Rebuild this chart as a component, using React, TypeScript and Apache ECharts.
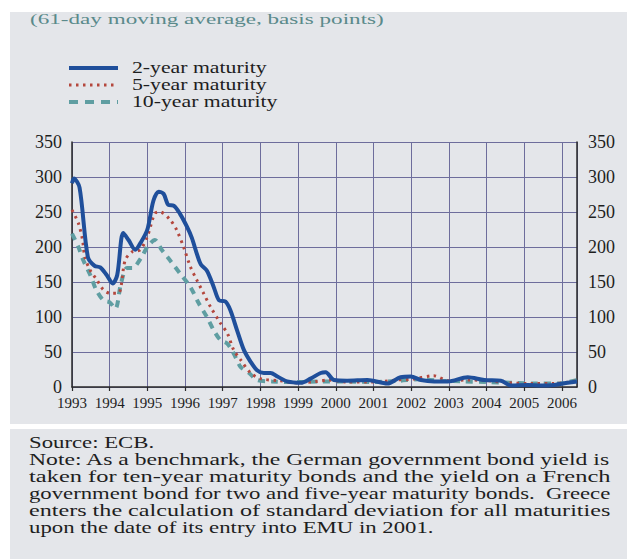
import React, { useEffect, useRef } from "react";
import * as echarts from "echarts";

const TITLE = "(61-day moving average, basis points)";
const SERIES_NAMES = ["2-year maturity", "5-year maturity", "10-year maturity"];
const NOTE_LINES = [
  "Source: ECB.",
  "Note: As a benchmark, the German government bond yield is",
  "taken for ten-year maturity bonds and the yield on a French",
  "government bond for two and five-year maturity bonds.  Greece",
  "enters the calculation of standard deviation for all maturities",
  "upon the date of its entry into EMU in 2001.",
];

const X_MIN = 1993;
const X_MAX = 2006.4;
const Y_MIN = 0;
const Y_MAX = 350;
const Y_STEP = 50;

// 2-year maturity
const twoYearX = [1993.0, 1993.05, 1993.2, 1993.42, 1993.6, 1993.75, 1993.92, 1994.08, 1994.2, 1994.36, 1994.5, 1994.68, 1994.82, 1995.0, 1995.16, 1995.3, 1995.43, 1995.56, 1995.7, 1995.87, 1996.05, 1996.18, 1996.32, 1996.42, 1996.58, 1996.76, 1996.9, 1997.07, 1997.2, 1997.38, 1997.56, 1997.74, 1997.91, 1998.09, 1998.27, 1998.45, 1998.71, 1999.07, 1999.33, 1999.6, 1999.73, 1999.95, 2000.3, 2000.84, 2001.37, 2001.72, 2001.99, 2002.26, 2002.61, 2002.97, 2003.5, 2003.94, 2004.38, 2004.65, 2005.1, 2005.45, 2005.8, 2006.15, 2006.4];
const twoYearY = [291, 298, 285, 186, 173, 171, 160, 148, 160, 220, 210, 196, 206, 225, 266, 279, 276, 260, 259, 247, 229, 213, 189, 175, 166, 143, 124, 122, 110, 81, 53, 36, 24, 20, 20, 15, 8, 6, 12, 20, 21, 10, 9, 10, 5, 14, 15, 10, 8, 8, 14, 10, 9, 2, 3, 2, 3, 6, 8];

// 5-year maturity
const fiveYearX = [1993.0, 1993.17, 1993.28, 1993.34, 1993.48, 1993.66, 1993.83, 1994.01, 1994.23, 1994.41, 1994.59, 1994.81, 1995.0, 1995.2, 1995.34, 1995.6, 1995.78, 1995.96, 1996.14, 1996.31, 1996.49, 1996.67, 1996.94, 1997.12, 1997.29, 1997.47, 1997.74, 1998.0, 1998.5, 1999.0, 1999.5, 1999.8, 2000.3, 2001.0, 2001.6, 2002.0, 2002.6, 2003.0, 2003.5, 2004.0, 2004.6, 2005.2, 2005.8, 2006.4];
const fiveYearY = [253, 234, 210, 186, 167, 153, 139, 134, 134, 181, 193, 196, 215, 248, 250, 239, 224, 200, 172, 153, 134, 115, 91, 77, 53, 39, 20, 12, 9, 6, 8, 10, 7, 7, 10, 11, 16, 9, 10, 9, 6, 5, 5, 9];

// 10-year maturity
const tenYearX = [1993.0, 1993.17, 1993.3, 1993.5, 1993.64, 1993.83, 1994.0, 1994.15, 1994.3, 1994.46, 1994.6, 1994.83, 1995.0, 1995.2, 1995.38, 1995.6, 1995.87, 1996.14, 1996.36, 1996.58, 1996.76, 1996.94, 1997.12, 1997.29, 1997.47, 1997.7, 1997.91, 1998.3, 1999.0, 1999.6, 2000.2, 2001.0, 2001.7, 2002.2, 2002.8, 2003.4, 2004.0, 2004.7, 2005.3, 2005.9, 2006.4];
const tenYearY = [219, 200, 181, 158, 139, 124, 121, 112, 148, 170, 170, 184, 200, 210, 196, 181, 162, 143, 120, 100, 81, 67, 62, 48, 29, 20, 10, 8, 7, 8, 8, 7, 9, 11, 9, 8, 7, 6, 5, 5, 10];

const SERIF = '"Liberation Serif", "Times New Roman", serif';
const PANEL = "#e4e6ea";
const GRID = "#6d6d9c";
const BLUE = "#1f4f9b";
const RED = "#b4473d";
const TEAL = "#5f9ea2";
const TEXT = "#1e1e1e";

function measure(text: string, size: number): number {
  const c = document.createElement("canvas").getContext("2d");
  if (!c) return text.length * size * 0.45;
  c.font = `${size}px "Liberation Serif"`;
  return c.measureText(text).width;
}

function pairs(xs: number[], ys: number[]) {
  return xs.map((x, i) => [x, ys[i]]);
}

export default function App() {
  const ref = useRef<HTMLDivElement>(null);
  useEffect(() => {
    if (!ref.current) return;
    const chart = echarts.init(ref.current, undefined, { renderer: "svg" });

    const titleSize = 15;
    const titleScale = 354 / measure(TITLE, titleSize);

    const legendSize = 16;
    const legendScale = 1.36;
    const legendRows = [68, 85, 102];
    const legendStyles = [
      { stroke: BLUE, lineWidth: 4, lineDash: null as any },
      { stroke: RED, lineWidth: 3, lineDash: [2.5, 4.5] },
      { stroke: TEAL, lineWidth: 4, lineDash: [9, 7] },
    ];

    const noteSize = 17;
    const noteRows = [442, 459, 476, 493, 510, 527];
    const noteScales = NOTE_LINES.map((l, i) =>
      i === 0 || i === NOTE_LINES.length - 1 ? 1.34 : 582 / measure(l, noteSize)
    );

    const graphic: any[] = [
      { type: "rect", z: -10, shape: { x: 10, y: 12, width: 617, height: 412 }, style: { fill: PANEL } },
      { type: "rect", z: -10, shape: { x: 10, y: 429, width: 617, height: 130 }, style: { fill: PANEL } },
      {
        type: "text",
        x: 30,
        y: 19,
        scaleX: titleScale,
        style: { text: TITLE, fontSize: titleSize, fontFamily: SERIF, fill: "#5a8a8b", verticalAlign: "middle" },
      },
    ];
    SERIES_NAMES.forEach((name, i) => {
      graphic.push({
        type: "line",
        shape: { x1: 69, y1: legendRows[i], x2: 118, y2: legendRows[i] },
        style: legendStyles[i],
      });
      graphic.push({
        type: "text",
        x: 132,
        y: legendRows[i],
        scaleX: legendScale,
        style: { text: name, fontSize: legendSize, fontFamily: SERIF, fill: TEXT, verticalAlign: "middle" },
      });
    });
    NOTE_LINES.forEach((line, i) => {
      graphic.push({
        type: "text",
        x: 29,
        y: noteRows[i],
        scaleX: noteScales[i],
        style: { text: line, fontSize: noteSize, fontFamily: SERIF, fill: TEXT, verticalAlign: "middle" },
      });
    });

    const yAxisCommon = {
      type: "value",
      min: Y_MIN,
      max: Y_MAX,
      interval: Y_STEP,
      axisTick: { show: false },
      axisLine: { show: true, lineStyle: { color: "#2a2a2a", width: 1.5 } },
    };

    chart.setOption({
      animation: false,
      backgroundColor: "transparent",
      graphic,
      grid: { left: 72, right: 50, top: 142, bottom: 172, containLabel: false },
      xAxis: {
        type: "value",
        min: X_MIN,
        max: X_MAX,
        interval: 1,
        axisLine: { show: true, lineStyle: { color: "#2a2a2a", width: 1.5 } },
        axisTick: { show: true, length: 4, lineStyle: { color: "#2a2a2a", width: 1.2 } },
        axisLabel: {
          margin: 8,
          fontSize: 15,
          fontFamily: SERIF,
          color: TEXT,
          showMaxLabel: false,
          formatter: (v: number) => (Math.abs(v - Math.round(v)) < 1e-6 ? String(Math.round(v)) : ""),
        },
        splitLine: { show: true, lineStyle: { color: GRID, width: 1 } },
      },
      yAxis: [
        {
          ...yAxisCommon,
          position: "left",
          axisLabel: { margin: 10, fontSize: 18, fontFamily: SERIF, color: TEXT },
          splitLine: { show: true, lineStyle: { color: GRID, width: 1 } },
        },
        {
          ...yAxisCommon,
          position: "right",
          axisLabel: { margin: 11, fontSize: 18, fontFamily: SERIF, color: TEXT },
          splitLine: { show: false },
        },
      ],
      series: [
        {
          name: SERIES_NAMES[2],
          type: "line",
          data: pairs(tenYearX, tenYearY),
          showSymbol: false,
          smooth: 0.3,
          lineStyle: { color: TEAL, width: 4, type: [7, 6] },
          z: 2,
        },
        {
          name: SERIES_NAMES[1],
          type: "line",
          data: pairs(fiveYearX, fiveYearY),
          showSymbol: false,
          smooth: 0.3,
          lineStyle: { color: RED, width: 3, type: [2.5, 4.5] },
          z: 3,
        },
        {
          name: SERIES_NAMES[0],
          type: "line",
          data: pairs(twoYearX, twoYearY),
          showSymbol: false,
          smooth: 0.3,
          lineStyle: { color: BLUE, width: 4 },
          z: 4,
        },
      ],
    });
    return () => chart.dispose();
  }, []);

  return (
    <div
      ref={ref}
      style={{ position: "fixed", left: 0, top: 0, width: 627, height: 559, background: "#ffffff" }}
    />
  );
}
